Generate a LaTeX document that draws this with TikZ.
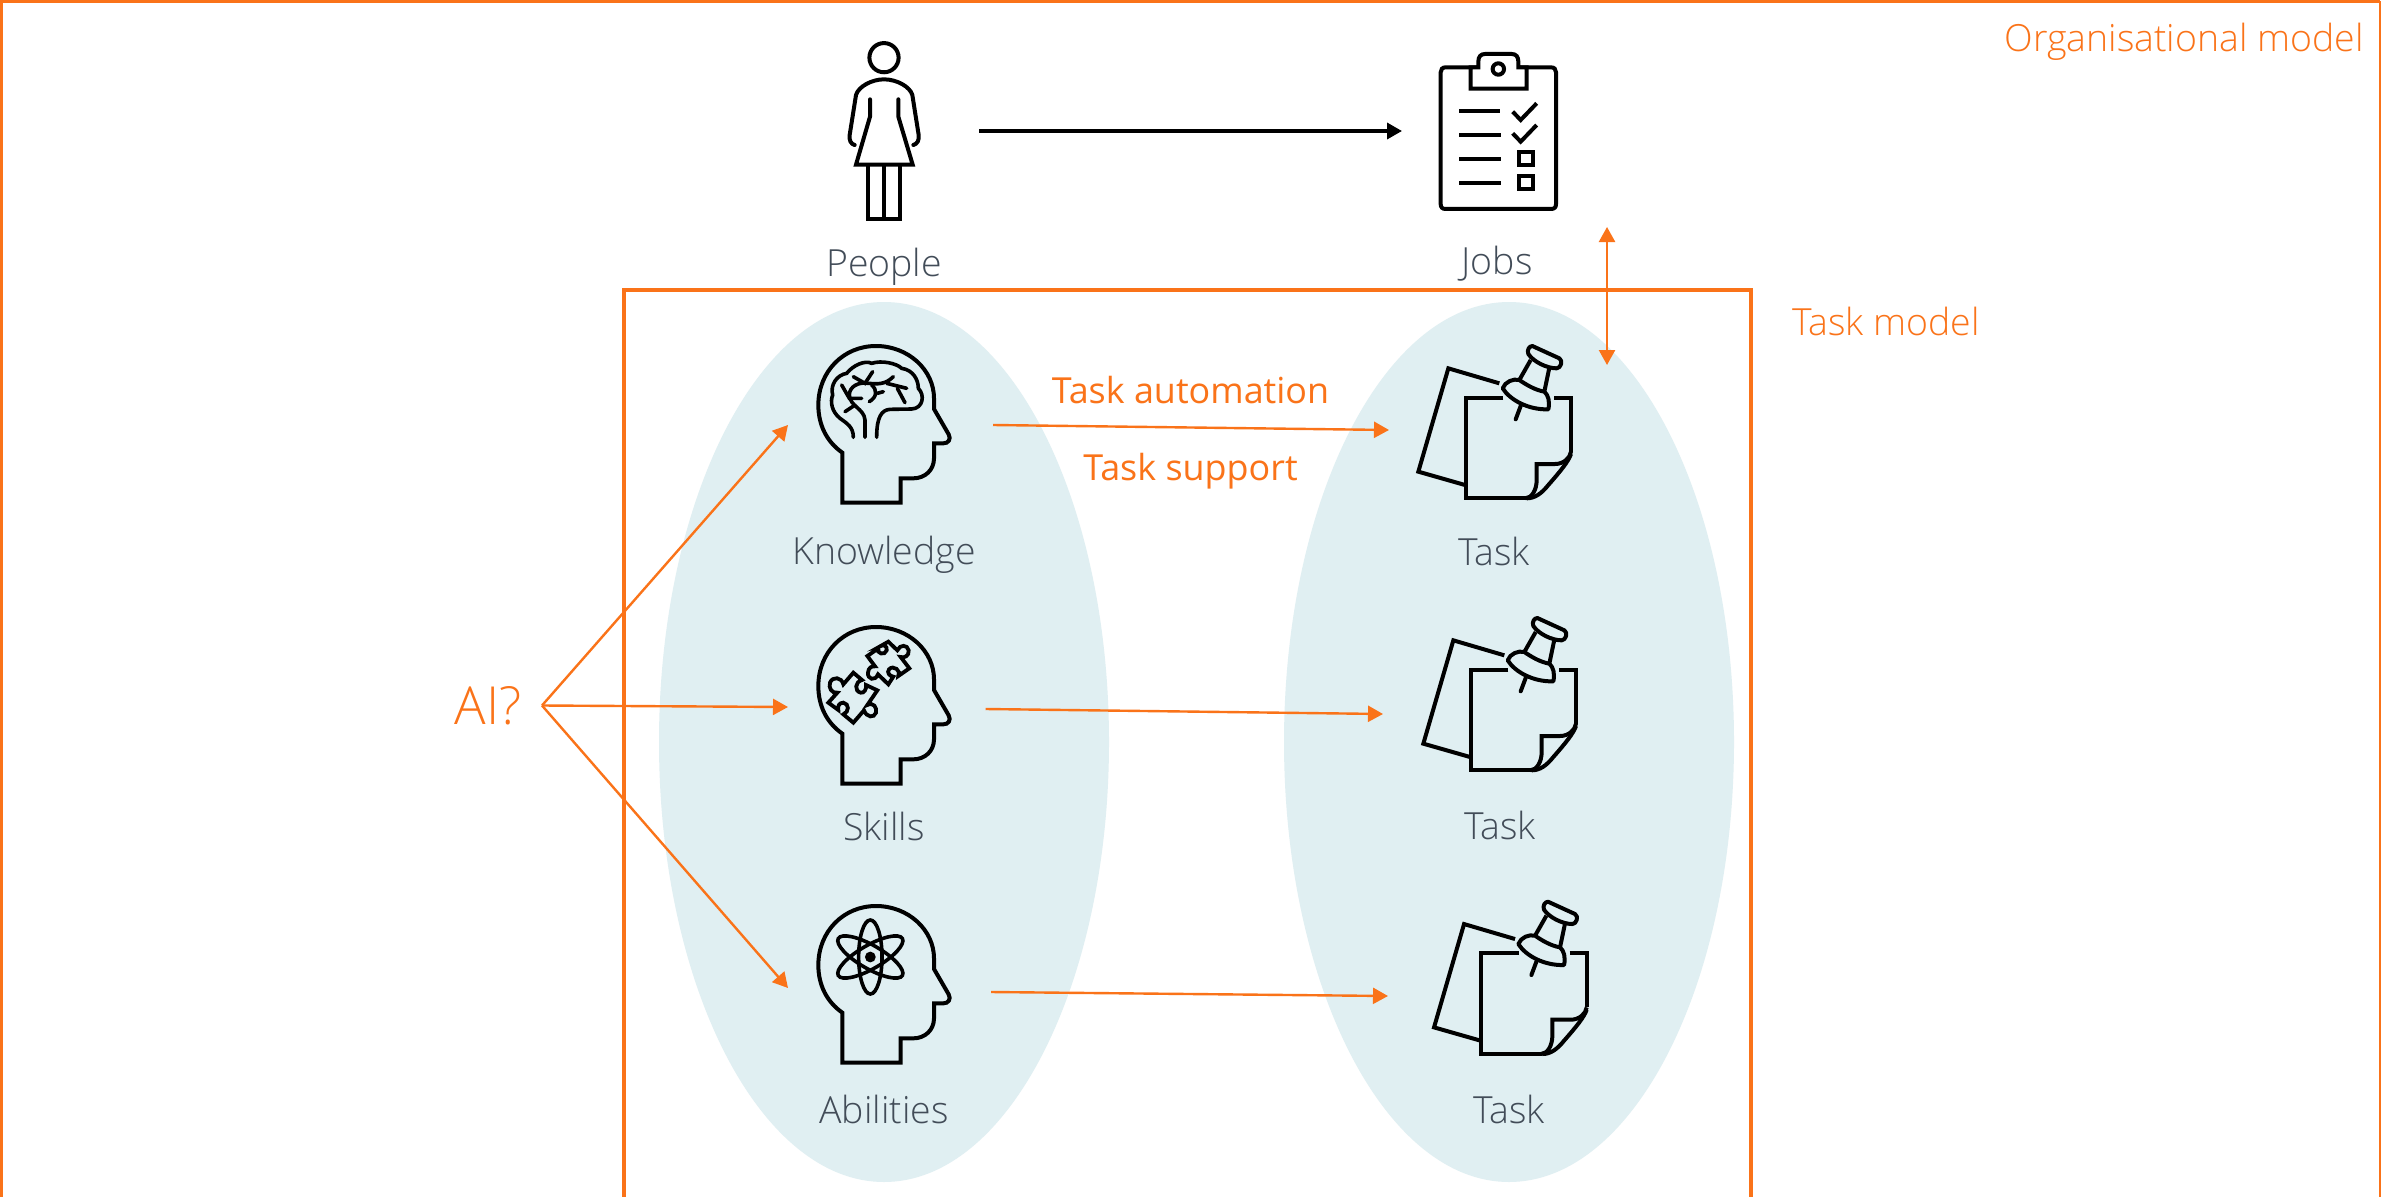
\documentclass[tikz,border=0pt]{standalone}
\usepackage{fontspec}
\setmainfont{Open Sans}
\newfontfamily\lightf{Open Sans Light}
\usetikzlibrary{arrows.meta,shapes.geometric}
\definecolor{orangeM}{RGB}{250,115,25}
\definecolor{paleB}{RGB}{224,239,242}
\definecolor{labelG}{RGB}{66,76,88}
\tikzset{
  icon/.style={draw=black,line width=4pt,line cap=butt,line join=miter,fill=none},
  iconscale/.style={x=0.33333pt,y=-0.33333pt},
  blob/.style={ellipse,fill=paleB,draw=none,minimum width=450pt,minimum height=880pt,inner sep=0pt},
  frameline/.style={draw=orangeM,line width=3.6pt},
  oarrow/.style={draw=orangeM,line width=2.4pt,-{Triangle[length=15pt,width=16pt]}},
  lbl/.style={anchor=base,inner sep=0pt,text=labelG,font=\lightf\fontsize{37.4}{44}\selectfont},
  olbl/.style={anchor=base,inner sep=0pt,text=orangeM,font=\fontsize{35.9}{42}\selectfont},
  ollbl/.style={anchor=base,inner sep=0pt,text=orangeM,font=\lightf\fontsize{37.4}{44}\selectfont},
  headicon/.pic={
    \path[icon] (157,368) .. controls (110,335) and (85,285) .. (85,225)
      .. controls (85,125) and (160,48) .. (258,48)
      .. controls (355,48) and (432,120) .. (432,205) -- (432,237) -- (476,313)
      .. controls (484,328) and (475,340) .. (460,340) -- (432,340) -- (432,385)
      .. controls (432,420) and (405,445) .. (370,445) -- (332,445) -- (332,518) -- (157,518) -- cycle;
  },
  brainicon/.pic={
    \begin{scope}[icon,line width=3.6pt,line cap=round]
    \draw (190,322) .. controls (190,290) and (170,280) .. (150,265)
      .. controls (125,245) and (120,215) .. (128,195)
      .. controls (120,165) and (140,135) .. (170,130)
      .. controls (190,105) and (225,90) .. (245,100)
      .. controls (275,90) and (320,100) .. (335,115)
      .. controls (370,120) and (385,150) .. (385,175)
      .. controls (405,195) and (400,235) .. (365,237) -- (300,238)
      .. controls (275,240) and (260,260) .. (260,322);
    \draw (225,322) -- (225,270) .. controls (222,235) and (180,230) .. (178,195)
      .. controls (178,170) and (205,155) .. (235,160)
      .. controls (262,162) and (285,165) .. (310,140);
    \draw (155,165) -- (178,205) -- (215,205);
    \draw (165,245) -- (195,225);
    \draw (190,140) -- (225,160) -- (248,125);
    \draw (245,165) .. controls (262,180) and (262,200) .. (238,215);
    \draw (262,190) -- (280,185);
    \draw (290,160) -- (350,175);
    \draw (322,175) -- (345,218);
    \end{scope}
  },
  puzzleicon/.pic={
    \path[icon,line width=3.8pt]
      (295,92) -- (322,118) .. controls (330,100) and (352,100) .. (356,118)
      .. controls (358,135) and (342,142) .. (332,138) -- (358,172) -- (325,195)
      .. controls (335,180) and (310,160) .. (297,175) .. controls (290,185) and (298,195) .. (310,197)
      -- (295,220) -- (264,190) .. controls (255,212) and (232,205) .. (234,185)
      .. controls (235,170) and (245,165) .. (255,166) -- (232,135) -- (265,112)
      .. controls (258,128) and (285,135) .. (290,118) .. controls (292,105) and (282,100) .. (272,105) -- cycle;
    \path[icon,line width=3.8pt]
      (190,185) -- (216,207) .. controls (195,212) and (192,240) .. (212,245)
      .. controls (222,247) and (230,235) .. (228,222) -- (262,238) -- (232,282)
      .. controls (250,272) and (262,290) .. (258,305) .. controls (252,322) and (230,320) .. (222,298)
      -- (190,335) -- (160,310) .. controls (178,303) and (178,278) .. (160,275)
      .. controls (148,275) and (142,285) .. (145,297) -- (115,275) -- (142,245)
      .. controls (125,248) and (115,230) .. (120,215) .. controls (128,195) and (155,198) .. (160,220) -- cycle;
  },
  atomicon/.pic={
    \begin{scope}[icon,line width=3.6pt]
    \draw (241,201) ellipse [x radius=11.7pt,y radius=37pt];
    \draw[rotate around={60:(241,201)}] (241,201) ellipse [x radius=11.7pt,y radius=37pt];
    \draw[rotate around={-60:(241,201)}] (241,201) ellipse [x radius=11.7pt,y radius=37pt];
    \end{scope}
    \fill[black] (241,201) circle [radius=5.4pt];
  },
  taskicon/.pic={
    \begin{scope}[icon]
    \draw (298,160) -- (145,115) -- (55,425) -- (195,465);
    \draw (310,203) -- (197,203) -- (197,505) -- (380,505);
    \draw (462,203) -- (513,203) -- (513,365);
    \draw (513,365) .. controls (510,385) and (490,402) .. (465,402) -- (410,402) -- (410,450)
      .. controls (410,480) and (395,505) .. (375,505);
    \draw (513,372) .. controls (505,395) and (480,425) .. (445,465)
      .. controls (425,490) and (405,505) .. (380,505);
    \draw[line join=round] (397,48) -- (478,85) .. controls (490,92) and (482,115) .. (470,115)
      .. controls (440,115) and (400,95) .. (385,72) .. controls (380,60) and (388,48) .. (397,48) -- cycle;
    \draw (392,90) -- (358,150);
    \draw (448,113) -- (433,185);
    \draw[line join=round] (358,150) .. controls (340,145) and (315,155) .. (308,175)
      .. controls (330,210) and (385,240) .. (445,238)
      .. controls (450,215) and (445,195) .. (433,185)
      .. controls (405,180) and (380,165) .. (358,150) -- cycle;
    \draw[line cap=round] (362,228) -- (347,268);
    \end{scope}
  },
  personicon/.pic={
    \begin{scope}[icon]
    \draw (312,113) circle [radius=14.6pt];
    \draw[line cap=round] (224,375) .. controls (212,372) and (207,360) .. (209,345) -- (228,225)
      .. controls (235,200) and (275,178) .. (312,178)
      .. controls (350,178) and (390,200) .. (397,225) -- (416,345)
      .. controls (418,360) and (412,372) .. (400,375);
    \draw[line cap=round] (270,238) -- (270,290) -- (228,434) -- (398,434) -- (355,290) -- (355,238);
    \draw (264,434) -- (264,596) -- (360,596) -- (360,434) ;
    \draw (312,434) -- (312,596);
    \end{scope}
  },
  clipicon/.pic={
    \begin{scope}[icon]
    \draw (137,112) -- (453,112) .. controls (463,112) and (468,118) .. (468,127) -- (468,522)
      .. controls (468,532) and (463,537) .. (453,537) -- (137,537)
      .. controls (127,537) and (122,532) .. (122,522) -- (122,127)
      .. controls (122,118) and (127,112) .. (137,112) -- cycle;
    \draw[fill=white] (212,176) -- (212,112) -- (235,112) -- (235,95)
      .. controls (235,80) and (242,72) .. (255,72) -- (335,72)
      .. controls (348,72) and (355,80) .. (355,95) -- (355,112) -- (380,112) -- (380,176) -- cycle;
    \draw (295,117) circle [radius=5.7pt];
    \draw (177,243) -- (300,243);
    \draw (177,315) -- (302,315);
    \draw (177,387) -- (302,387);
    \draw (177,459) -- (302,459);
    \draw (338,245) -- (362,270) -- (410,220);
    \draw (338,310) -- (362,335) -- (410,285);
    \draw (358,366) rectangle (400,406);
    \draw (358,438) rectangle (400,478);
    \end{scope}
  },
}
\begin{document}
\begin{tikzpicture}[x=1pt,y=-1pt]
\useasboundingbox (0,0) rectangle (2381,1196);
\fill[white] (0,0) rectangle (2381,1196);
% blobs
\node[blob] (blobL) at (884,742) {};
\node[blob] (blobR) at (1509,742) {};
% frames
\coordinate (outerBL) at (1.5,1200);
\coordinate (outerTL) at (1.5,1);
\coordinate (outerTR) at (2380,1);
\coordinate (outerBR) at (2380,1200);
\draw[frameline] (outerBL) -- (outerTL) -- (outerTR);
\draw[draw=orangeM,line width=1.6pt] (outerTR) -- (outerBR);
\coordinate (innerBL) at (624,1200);
\coordinate (innerTL) at (624,290);
\coordinate (innerTR) at (1751,290);
\coordinate (innerBR) at (1751,1200);
\draw[frameline] (innerBL) -- (innerTL) -- (innerTR) -- (innerBR);
% icons
\pic[iconscale] at (780pt,-20pt) {personicon};
\pic[iconscale] at (1400pt,-30pt) {clipicon};
\pic[iconscale] at (790pt,-330pt) {headicon};
\pic[iconscale] at (790pt,-330pt) {brainicon};
\pic[iconscale] at (790pt,-611pt) {headicon};
\pic[iconscale] at (790pt,-611pt) {puzzleicon};
\pic[iconscale] at (790pt,-890pt) {headicon};
\pic[iconscale] at (790pt,-890pt) {atomicon};
\pic[iconscale] at (1400pt,-330pt) {taskicon};
\pic[iconscale] at (1405pt,-602pt) {taskicon};
\pic[iconscale] at (1415.7pt,-885.7pt) {taskicon};
% labels
\node[lbl] (people) at (884,276) {People};
\node[lbl] (jobs) at (1497,274) {Jobs};
\node[lbl] (knowledge) at (884,564) {Knowledge};
\node[lbl] (skills) at (884,840) {Skills};
\node[lbl] (abilities) at (884,1123) {Abilities};
\node[lbl] (task1) at (1494,565) {Task};
\node[lbl] (task2) at (1500,839) {Task};
\node[lbl] (task3) at (1509,1123) {Task};
\node[ollbl,font=\lightf\fontsize{52.5}{60}\selectfont] (ai) at (488,724) {AI?};
\node[ollbl] (orgmodel) at (2184,52) {Organisational model};
\node[ollbl] (taskmodel) at (1886,335) {Task model};
\node[olbl] (automation) at (1190.5,403) {Task automation};
\node[olbl] (support) at (1190.5,480) {Task support};
% connector ends
\coordinate (aiOut) at (542,705.5);
\coordinate (k) at (788,425);
\coordinate (s) at (788,707);
\coordinate (a) at (788,988);
\coordinate (k2) at (993,425);
\coordinate (t1) at (1389,430);
\coordinate (s2) at (985.5,709);
\coordinate (t2) at (1383,714);
\coordinate (a2) at (991,992);
\coordinate (t3) at (1388,996);
\coordinate (pOut) at (979,131);
\coordinate (jIn) at (1402,131);
\coordinate (dTop) at (1607,227);
\coordinate (dBot) at (1607,365);
% connectors
\draw[line width=3.4pt,-{Triangle[length=15pt,width=16pt]}] (pOut) -- (jIn);
\draw[oarrow] (aiOut) -- (k);
\draw[oarrow] (aiOut) -- (s);
\draw[oarrow] (aiOut) -- (a);
\draw[oarrow] (k2) -- (t1);
\draw[oarrow] (s2) -- (t2);
\draw[oarrow] (a2) -- (t3);
\draw[oarrow,{Triangle[length=15pt,width=16pt]}-{Triangle[length=15pt,width=16pt]}] (dTop) -- (dBot);
\end{tikzpicture}
\end{document}
